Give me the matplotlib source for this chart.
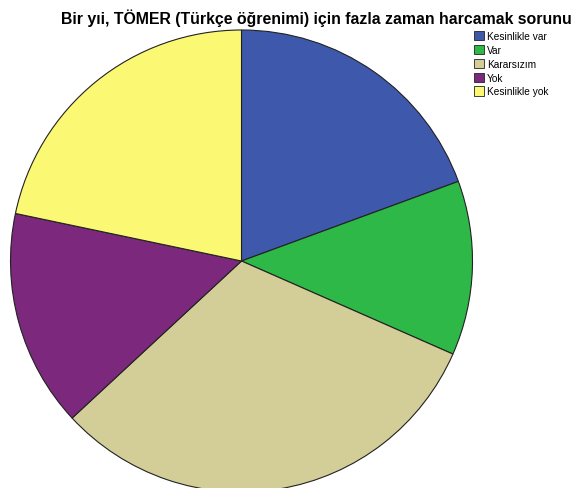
import matplotlib.pyplot as plt
from matplotlib.patches import Patch

labels = ["Kesinlikle var", "Var", "Kararsızım", "Yok", "Kesinlikle yok"]
values = [19.4, 12.2, 31.5, 15.2, 21.7]
colors = ["#3e58ac", "#2eb848", "#d3ce97", "#7b287d", "#fbf873"]

W, H = 574, 489
fig = plt.figure(figsize=(W / 100, H / 100), dpi=100)

cx, cy, r = 241.5, 262, 231
ax = fig.add_axes([(cx - r) / W, (H - cy - r) / H, 2 * r / W, 2 * r / H])
ax.pie(values, colors=colors, startangle=90, counterclock=False,
       wedgeprops=dict(edgecolor="#222222", linewidth=0.8))
ax.set_xlim(-1, 1)
ax.set_ylim(-1, 1)
ax.set_aspect("equal")
ax.axis("off")

fig.text(316 / W, 1 - 18 / H, "Bir yıi, TÖMER (Türkçe öğrenimi) için fazla zaman harcamak sorunu",
         ha="center", va="center", fontsize=11.4, fontweight="bold",
         family="Liberation Sans")

handles = [Patch(facecolor=c, edgecolor="#222222", linewidth=0.6) for c in colors]
fig.legend(handles, labels, loc="upper left", bbox_to_anchor=(474 / W, 1 - 32 / H),
           frameon=False, handlelength=1.0, handleheight=1.0,
           handletextpad=0.25, labelspacing=0.38, borderpad=0, borderaxespad=0,
           prop={"family": "Liberation Sans", "size": 7.3})

fig.savefig("out.png", dpi=100)
